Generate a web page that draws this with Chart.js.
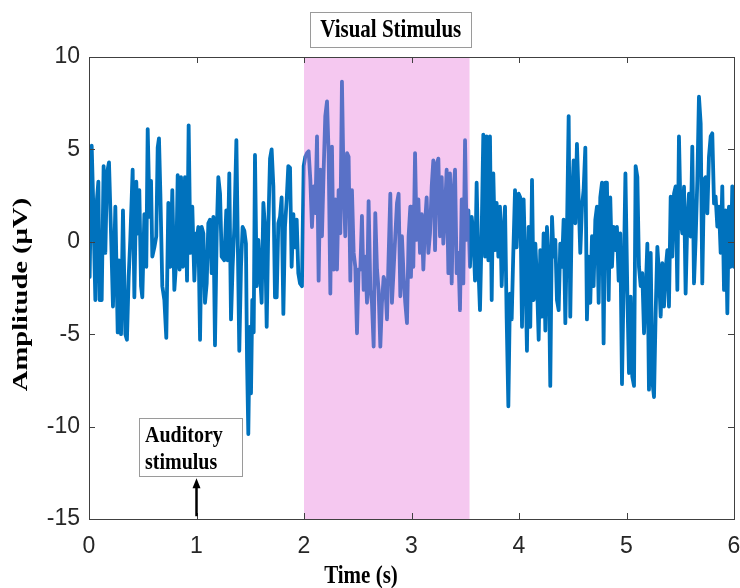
<!DOCTYPE html>
<html><head><meta charset="utf-8">
<script src="https://cdn.jsdelivr.net/npm/chart.js@4"></script>
<style>html,body{margin:0;padding:0;background:#fff}</style>
</head><body>
<canvas id="c" width="740" height="588"></canvas>
<script>
// ---- data ----
const times = [
0.000,0.006,0.025,0.037,0.059,0.074,0.087,0.099,0.118,0.136,0.152,0.167,0.186,0.205,0.223,0.245,0.267,0.279,0.298,0.316,
0.338,0.353,0.369,0.384,0.406,0.422,0.440,0.453,0.468,0.484,0.496,0.515,0.533,0.546,0.564,0.577,0.589,0.608,0.626,0.639,
0.651,0.664,0.682,0.701,0.719,0.738,0.757,0.775,0.794,0.812,0.825,0.843,0.856,0.874,0.893,0.912,0.927,0.943,0.961,0.980,0.998,
1.002,1.017,1.033,1.048,1.064,1.079,1.095,1.110,1.126,1.141,1.157,1.172,1.188,1.203,1.219,1.234,1.259,1.277,1.290,1.305,
1.321,1.336,1.352,1.371,1.383,1.398,1.414,1.429,1.445,1.460,1.470,1.482,1.495,1.507,1.519,1.532,1.544,1.560,1.575,1.591,
1.606,1.622,1.637,1.653,1.668,1.684,1.699,1.715,1.730,1.746,1.761,1.777,1.792,1.808,1.823,1.839,1.854,1.870,1.885,1.901,
1.916,1.932,1.947,1.963,1.981,1.988,1.997,2.012,2.028,2.043,2.059,2.074,2.090,2.105,2.121,2.136,2.152,2.167,2.183,2.198,
2.214,2.229,2.245,2.260,2.276,2.291,2.307,2.322,2.338,2.353,2.369,2.384,2.400,2.415,2.431,2.446,2.462,2.477,2.493,2.508,
2.524,2.539,2.555,2.570,2.586,2.601,2.617,2.632,2.648,2.663,2.679,2.694,2.710,2.725,2.741,2.756,2.772,2.787,2.803,2.818,
2.834,2.849,2.865,2.880,2.896,2.911,2.927,2.942,2.958,2.973,2.989,2.995,3.008,3.017,3.033,3.048,3.064,3.079,3.095,3.110,
3.126,3.141,3.157,3.172,3.188,3.203,3.219,3.234,3.250,3.265,3.281,3.296,3.312,3.327,3.343,3.358,3.374,3.389,3.405,3.420,
3.436,3.451,3.467,3.482,3.498,3.513,3.529,3.544,3.560,3.575,3.591,3.606,3.622,3.637,3.653,3.668,3.684,3.699,3.715,3.730,
3.746,3.761,3.777,3.792,3.808,3.823,3.839,3.854,3.870,3.885,3.901,3.916,3.932,3.947,3.963,3.978,3.997,4.012,4.028,4.043,
4.059,4.074,4.090,4.105,4.121,4.136,4.152,4.167,4.183,4.198,4.214,4.229,4.245,4.260,4.276,4.291,4.307,4.322,4.338,4.353,
4.369,4.384,4.400,4.415,4.431,4.446,4.462,4.477,4.493,4.508,4.524,4.539,4.555,4.570,4.586,4.601,4.617,4.632,4.648,4.663,
4.679,4.694,4.710,4.725,4.741,4.756,4.772,4.787,4.803,4.818,4.834,4.849,4.865,4.880,4.896,4.911,4.927,4.942,4.958,4.990,
5.008,5.023,5.039,5.054,5.070,5.085,5.101,5.116,5.132,5.147,5.163,5.178,5.194,5.209,5.225,5.240,5.256,5.271,5.287,5.302,
5.318,5.333,5.349,5.364,5.380,5.395,5.411,5.426,5.442,5.457,5.473,5.488,5.504,5.519,5.535,5.550,5.566,5.581,5.597,5.612,
5.628,5.643,5.659,5.674,5.690,5.705,5.721,5.736,5.752,5.767,5.783,5.798,5.814,5.829,5.845,5.860,5.876,5.891,5.907,5.922,
5.938,5.953,5.969,5.984,6.000
];
const amplitudes = [
1.9,-1.9,5.2,2.6,-3.15,2.3,3.25,-3.15,-3.15,4.1,-0.6,3.7,4.3,0.45,-3.5,1.9,-4.9,-1.0,-5.0,1.7,
-5.0,-5.3,-1.9,0.1,3.9,-3.0,3.25,0.45,2.8,-2.4,-3.0,1.5,-1.35,6.1,1.35,3.3,-0.8,-0.3,0.3,5.1,
5.6,2.6,-2.4,-3.15,-5.2,2.1,-1.35,2.8,-2.6,-1.0,3.6,-1.5,3.5,-1.35,3.5,-2.1,6.3,-0.6,1.9,-2.1,0.45,
0.1,0.8,-5.3,0.8,0.45,-3.3,-2.25,1.0,1.2,-1.7,1.35,-5.6,0.45,3.5,2.6,-0.8,-1.0,1.7,-1.0,3.7,
-4.2,-1.35,0.8,5.5,0.45,-5.9,-1.35,0.8,0.6,-0.1,-6.4,-10.4,-4.6,-8.2,-3.15,-4.9,4.7,-2.4,0.1,-1.7,
-3.3,2.1,0.8,-4.6,0.8,4.5,5.0,3.0,-3.0,-3.0,1.0,1.35,2.4,-3.9,0.8,2.3,4.1,4.0,-1.35,1.5,
-0.3,1.2,-1.7,-2.25,-2.4,0.64,4.1,4.6,4.8,4.9,3.35,0.8,3.0,1.55,5.7,-2.1,3.9,0.3,3.9,6.8,
7.6,4.8,-2.8,5.15,-1.5,2.3,-1.5,2.8,0.46,8.67,3.0,0.3,4.8,4.6,-2.1,2.8,-0.6,-1.35,-4.95,-1.5,
-1.5,1.4,-2.6,-0.8,-3.3,2.2,-2.6,-3.3,-5.67,1.55,-1.5,-2.6,-5.67,-3.3,-1.9,-2.25,-4.2,-0.8,2.6,-3.3,
-1.5,0.3,2.1,2.6,-2.95,0.3,-1.9,-3.3,-4.4,0.3,1.9,-1.9,1.9,-1.35,4.8,0.1,2.3,-0.6,1.5,-1.5,
1.0,2.4,-0.6,0.45,3.0,4.4,-0.45,4.2,4.5,0.3,3.5,-0.1,1.7,3.9,-1.7,3.7,-2.25,2.6,3.9,-1.7,
-0.6,-3.7,2.3,-2.25,5.5,0.1,1.7,-1.35,1.35,0.45,-2.1,3.2,-1.35,-3.7,0.6,5.8,-0.8,5.7,-1.0,5.7,
-3.15,3.7,-0.45,2.1,-0.8,1.9,-2.4,0.45,1.9,-4.05,-8.9,-2.8,-4.2,-0.6,2.8,-0.3,2.6,2.4,-4.6,2.3,
-1.35,-5.9,0.8,-4.6,3.35,-3.15,-0.1,-2.1,-5.3,-0.45,-4.05,0.45,-4.8,0.8,-1.0,-7.8,1.35,-0.8,0.1,-3.15,
-3.7,-0.1,-1.35,1.2,-4.4,0.45,6.8,-4.05,2.3,4.4,1.0,5.3,2.3,-0.6,1.9,2.8,5.1,-4.2,-0.8,-3.3,
0.3,-2.4,1.2,1.9,-3.3,2.4,3.2,-5.5,3.2,3.2,-3.15,2.4,-1.35,0.8,-0.45,0.8,-2.1,0.45,-7.7,3.7,
-2.8,-7.1,-2.97,-7.3,-7.8,4.1,3.5,-1.35,-2.4,-1.7,-4.95,-2.8,-0.1,-8.0,-0.6,-7.5,-8.4,-3.9,-0.27,-1.7,
-4.05,-1.15,-3.5,-1.5,-0.45,-3.5,2.44,-0.8,2.6,3.0,-2.6,5.7,1.18,0.46,2.98,-2.8,1.18,2.6,0.28,5.15,
-2.25,0.1,3.35,7.85,6.4,-2.25,3.35,3.5,1.54,4.6,5.7,5.87,2.08,2.44,0.82,1.9,-0.6,3.0,-2.6,1.7,
-3.87,1.9,-1.35,3.0,-1.35
];
const xTickValues = [0, 1, 2, 3, 4, 5, 6];
const yTickValues = [-15, -10, -5, 0, 5, 10];
const visualWindow = [2.0, 3.54];
const auditoryOnset = 1.0;
const xTitle = 'Time (s)';
const yTitle = 'Amplitude (\u00B5V)';
const visualLabel = 'Visual Stimulus';
const auditoryLabel = ['Auditory', 'stimulus'];

const points = times.map((t, i) => ({x: t, y: amplitudes[i]}));
const SERIF = '"Liberation Serif", "Times New Roman", serif';
const SANS = '"Liberation Sans", Arial, sans-serif';
const STRETCH = 1.2;

function tallText(ctx, text, x, y) {
  ctx.save();
  ctx.translate(x, y);
  ctx.scale(1, STRETCH);
  ctx.fillText(text, 0, 0);
  ctx.restore();
}

const overlay = {
  id: 'overlay',
  afterDatasetsDraw(chart) {
    const {ctx, chartArea: a, scales: {x}} = chart;
    const x0 = x.getPixelForValue(visualWindow[0]);
    const x1 = x.getPixelForValue(visualWindow[1]);
    ctx.save();
    ctx.fillStyle = 'rgba(230,114,216,0.39)';
    ctx.fillRect(x0, a.top, x1 - x0, a.bottom - a.top);
    ctx.restore();
  },
  afterDraw(chart) {
    const {ctx, chartArea: a, scales: {x, y}} = chart;
    ctx.save();
    // axes box
    ctx.strokeStyle = '#404040';
    ctx.lineWidth = 1;
    ctx.strokeRect(Math.round(a.left) + 0.5, Math.round(a.top) + 0.5,
                   Math.round(a.right - a.left), Math.round(a.bottom - a.top));
    // inward ticks
    ctx.beginPath();
    const tl = 6;
    xTickValues.forEach(v => {
      const px = Math.round(x.getPixelForValue(v)) + 0.5;
      ctx.moveTo(px, a.bottom); ctx.lineTo(px, a.bottom - tl);
      ctx.moveTo(px, a.top); ctx.lineTo(px, a.top + tl);
    });
    yTickValues.forEach(v => {
      const py = Math.round(y.getPixelForValue(v)) + 0.5;
      ctx.moveTo(a.left, py); ctx.lineTo(a.left + tl, py);
      ctx.moveTo(a.right, py); ctx.lineTo(a.right - tl, py);
    });
    ctx.stroke();

    // axis titles
    ctx.fillStyle = '#000';
    ctx.font = 'bold 21px ' + SERIF;
    ctx.textAlign = 'center';
    ctx.textBaseline = 'middle';
    tallText(ctx, xTitle, x.getPixelForValue(2.53), a.bottom + 57);
    ctx.save();
    ctx.font = 'bold 21px ' + SERIF;
    ctx.translate(a.left - 67, y.getPixelForValue(-2.85));
    ctx.rotate(-Math.PI / 2);
    ctx.scale(1.36, 1);
    ctx.fillText(yTitle, 0, 0);
    ctx.restore();

    // Visual Stimulus box above plot
    const cx = (x.getPixelForValue(visualWindow[0]) + x.getPixelForValue(visualWindow[1])) / 2 + 4;
    ctx.font = 'bold 21px ' + SERIF;
    const vw = ctx.measureText(visualLabel).width + 20;
    const vTop = a.top - 45, vH = 35;
    ctx.fillStyle = '#fff';
    ctx.fillRect(cx - vw / 2, vTop, vw, vH);
    ctx.strokeStyle = '#9a9a9a';
    ctx.strokeRect(Math.round(cx - vw / 2) + 0.5, vTop + 0.5, Math.round(vw), vH);
    ctx.fillStyle = '#000';
    ctx.textAlign = 'center';
    ctx.textBaseline = 'middle';
    tallText(ctx, visualLabel, cx, vTop + vH / 2 + 1);

    // Auditory stimulus box
    const bx0 = x.getPixelForValue(0.465), bx1 = x.getPixelForValue(1.423);
    const by0 = y.getPixelForValue(-9.53), by1 = y.getPixelForValue(-12.67);
    ctx.fillStyle = '#fff';
    ctx.fillRect(bx0, by0, bx1 - bx0, by1 - by0);
    ctx.strokeStyle = '#9a9a9a';
    ctx.strokeRect(Math.round(bx0) + 0.5, Math.round(by0) + 0.5, Math.round(bx1 - bx0), Math.round(by1 - by0));
    ctx.fillStyle = '#000';
    ctx.font = 'bold 20px ' + SERIF;
    ctx.textAlign = 'left';
    ctx.textBaseline = 'alphabetic';
    tallText(ctx, auditoryLabel[0], bx0 + 6, by0 + 24);
    tallText(ctx, auditoryLabel[1], bx0 + 6, by0 + 51);

    // arrow
    const ax = x.getPixelForValue(auditoryOnset);
    const ay0 = y.getPixelForValue(-14.85), ay1 = y.getPixelForValue(-12.8);
    ctx.strokeStyle = '#000';
    ctx.lineWidth = 2.5;
    ctx.beginPath();
    ctx.moveTo(ax, ay0); ctx.lineTo(ax, ay1 + 7);
    ctx.stroke();
    ctx.fillStyle = '#000';
    ctx.beginPath();
    ctx.moveTo(ax, ay1); ctx.lineTo(ax - 4, ay1 + 10); ctx.lineTo(ax + 4, ay1 + 10);
    ctx.closePath(); ctx.fill();
    ctx.restore();
  }
};

new Chart(document.getElementById('c'), {
  type: 'line',
  data: {
    datasets: [{
      data: points,
      borderColor: '#0072BD',
      borderWidth: 3.8,
      pointRadius: 0,
      tension: 0,
      borderJoinStyle: 'round',
      borderCapStyle: 'round',
      fill: false
    }]
  },
  options: {
    responsive: false,
    devicePixelRatio: 1,
    animation: false,
    layout: {padding: {top: 57, right: 6, left: 0, bottom: 0}},
    plugins: {legend: {display: false}, tooltip: {enabled: false}},
    scales: {
      x: {
        type: 'linear', min: 0, max: 6,
        afterFit: s => { s.height = 69; s.paddingLeft = 0; s.paddingRight = 0; },
        afterBuildTicks: s => { s.ticks = xTickValues.map(v => ({value: v})); },
        grid: {display: false, drawTicks: false},
        border: {display: false},
        ticks: {font: {family: SANS, size: 23}, color: '#262626', padding: 14, maxRotation: 0},
        title: {display: false}
      },
      y: {
        type: 'linear', min: -15, max: 10,
        afterFit: s => { s.width = 89; s.paddingTop = 0; s.paddingBottom = 0; },
        afterBuildTicks: s => { s.ticks = yTickValues.map(v => ({value: v})); },
        grid: {display: false, drawTicks: false},
        border: {display: false},
        ticks: {font: {family: SANS, size: 23}, color: '#262626', padding: 9},
        title: {display: false}
      }
    }
  },
  plugins: [overlay]
});
</script>
</body></html>
